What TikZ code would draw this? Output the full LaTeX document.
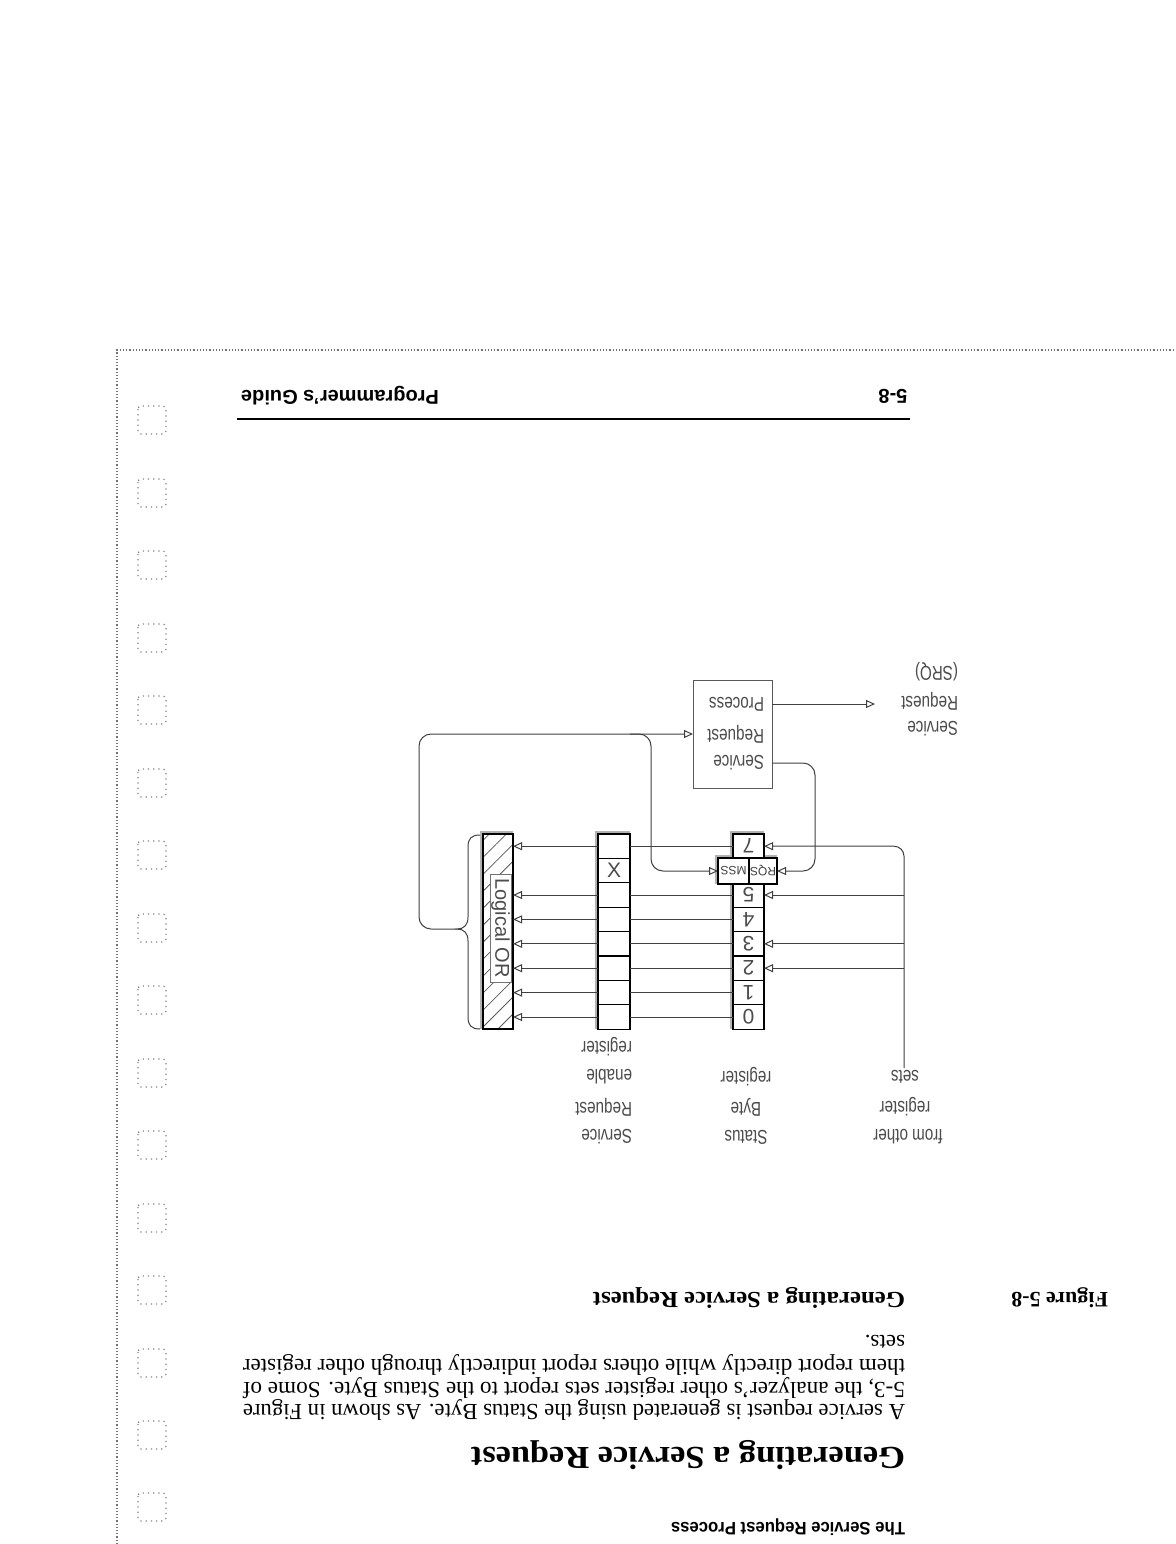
\documentclass[tikz,border=0pt]{standalone}
\usepackage{fontspec}
\setmainfont{Liberation Serif}
\setsansfont{Liberation Sans}
\usetikzlibrary{arrows.meta,patterns.meta}
\newcommand\fitw[2]{\resizebox{#1}{\height}{#2}}
\newcommand\nar[1]{\scalebox{0.76}[1]{#1}}
\newcommand\ud[1]{\rotatebox{180}{#1}}
\begin{document}
\begin{tikzpicture}[x=0.5pt,y=-0.5pt,
  every node/.style={inner sep=0pt, outer sep=0pt},
  up/.style={rotate=180},
  conn/.style={draw=black!75, line width=0.5pt},
  arr/.style={conn,-{Triangle[open,length=4.5pt,width=4pt]}},
  lbl/.style={up, font=\fontsize{10}{12}\selectfont\sffamily, text=black!70},
  cell/.style={draw=black, line width=0.6pt, fill=white},
  shade/.style={fill=black!30},
  margbox/.style={draw=black!50, dotted, line width=0.6pt, rounded corners=1.5pt},
  digit/.style={font=\fontsize{10.5}{12}\selectfont\sffamily, text=black!70}
]
\fill[white] (0,0) rectangle (1176,1544);
\useasboundingbox (0,0) rectangle (1176,1544);

% page edge and punch holes
\draw[black!55, densely dotted, line width=0.6pt] (117,1544) -- (117,350) -- (1176,350);
\foreach \yy in {420,493,565,638,710,783,855,928,1000,1073,1145,1218,1290,1363,1435,1507}
  \draw[margbox] (138,\yy-14) rectangle (166,\yy+14);

% running header
\draw[line width=1.1pt] (237,419) -- (910,419);
\node[up, font=\fontsize{10}{12}\selectfont\bfseries\sffamily] (hdr) at (340,396) {Programmer's Guide};
\node[up, font=\fontsize{10}{12}\selectfont\bfseries\sffamily] (pg) at (893,396) {5-8};

% ---------- diagram ----------
% shadows
\fill[shade] (480,831) rectangle (513,1029);
\fill[shade] (595,831) rectangle (630,1029);
\fill[shade] (730,831) rectangle (764,1029);
\fill[shade] (715,855) rectangle (777,884);

% logical OR bar
\node[draw=black, line width=0.6pt, fill=white, minimum width=15pt, minimum height=97.5pt] (orbg) at (498,931.5) {};
\node[draw=black, line width=0.6pt, pattern={Lines[angle=45,distance=6pt,line width=0.4pt]}, pattern color=black!65,
      minimum width=15pt, minimum height=97.5pt] (orb) at (498,931.5) {};
\node[draw=black!55, fill=white, line width=0.4pt, minimum width=10.5pt, minimum height=54pt,
      font=\fontsize{10}{12}\selectfont\sffamily, text=black!70] (orl) at (500.5,928) {\rotatebox{-90}{Logical OR}};

% registers
\foreach \i/\yy in {7/846.2, 6/870.6, 5/895, 4/919.4, 3/943.8, 2/968.2, 1/992.6, 0/1017} {
  \node[cell, minimum width=16pt, minimum height=12.2pt, digit] (e\i) at (614,\yy) {\ifnum\i=6 X\fi};
  \node[cell, minimum width=15.5pt, minimum height=12.2pt, digit] (s\i) at (748.5,\yy) {\ifnum\i=6 \else\ud{\i}\fi};
}
\node[cell, minimum width=15.5pt, minimum height=13pt, font=\fontsize{6}{7}\selectfont\sffamily, text=black!75] (mss) at (733.5,871) {\ud{MSS}};
\node[cell, minimum width=14pt, minimum height=13pt, font=\fontsize{6}{7}\selectfont\sffamily, text=black!75] (rqs) at (763,871) {\ud{RQS}};

% status byte -> enable register -> OR
\foreach \i in {7,5,4,3,2,1,0} {
  \draw[conn] (s\i.west) -- (e\i.east);
  \draw[arr] (e\i.west) -- (e\i.west -| orb.east);
}

% from other register sets
\coordinate (ob) at (904,1068);
\draw[arr, rounded corners=5pt] (ob) |- (s7.east);
\foreach \i in {5,3,2}
  \draw[arr] (s\i.east -| ob) -- (s\i.east);

% brace
\coordinate (brtip) at (457,929);
\draw[conn] (480,835) .. controls (471,835) and (468,839) .. (468,847) -- (468,917)
  .. controls (468,925) and (464,929) .. (brtip)
  .. controls (464,929) and (468,933) .. (468,941) -- (468,1017)
  .. controls (468,1025) and (471,1029) .. (480,1029);

% service request process box
\node[draw=black!65, line width=0.5pt, minimum width=39.5pt, minimum height=54pt] (srp) at (732.5,734) {};
\node[lbl, anchor=west] (srp1) at (764,704) {\nar{Process}};
\node[lbl, anchor=west] (srp2) at (764,734) {\nar{Request}};
\node[lbl, anchor=west] (srp3) at (764,763) {\nar{Service}};

% loop from OR to process, and to MSS
\coordinate (lt) at (419,734);
\draw[arr, rounded corners=6pt] (brtip) -| (lt) -- (srp.west);
\coordinate (bj) at (630,734);
\coordinate (bk) at (651,800);
\draw[arr, rounded corners=6pt] (bj) -| (bk) |- (mss.west);

% RQS from process
\coordinate (y763) at (0,763);
\coordinate (rk) at (815,820);
\draw[arr, rounded corners=6pt] (srp.east |- y763) -| (rk) |- (rqs.east);

% SRQ output
\coordinate (y704) at (0,704);
\coordinate (srq) at (875,704);
\draw[arr] (srp.east |- y704) -- (srq);
\node[lbl, anchor=west] (q1) at (958,672) {\nar{(SRQ)}};
\node[lbl, anchor=west] (q2) at (958,701) {\nar{Request}};
\node[lbl, anchor=west] (q3) at (958,729) {\nar{Service}};

% column labels
\node[lbl, anchor=west] (la1) at (632,1047) {\nar{register}};
\node[lbl, anchor=west] (la2) at (632,1077) {\nar{enable}};
\node[lbl, anchor=west] (la3) at (632,1107) {\nar{Request}};
\node[lbl, anchor=west] (la4) at (632,1137) {\nar{Service}};
\node[lbl] (lb1) at (746,1077) {\nar{register}};
\node[lbl] (lb2) at (746,1107) {\nar{Byte}};
\node[lbl] (lb3) at (746,1137) {\nar{Status}};
\node[lbl] (lc1) at (905,1077) {\nar{sets}};
\node[lbl] (lc2) at (905,1107) {\nar{register}};
\node[lbl] (lc3) at (908,1137) {\nar{from other}};

% ---------- text ----------
\node[up, anchor=west, font=\bfseries\fontsize{11}{13}\selectfont] (figno) at (1108,1298) {Figure 5-8};
\node[up, anchor=west, font=\bfseries\fontsize{11.5}{13}\selectfont] (figcap) at (905,1298) {\fitw{156pt}{Generating a Service Request}};

\node[up, anchor=west, font=\fontsize{11.5}{13}\selectfont] (b4) at (905,1342) {sets.};
\node[up, anchor=west, font=\fontsize{11.5}{13}\selectfont] (b3) at (905,1365) {\fitw{331pt}{them report directly while others report indirectly through other register}};
\node[up, anchor=west, font=\fontsize{11.5}{13}\selectfont] (b2) at (905,1388) {\fitw{331pt}{5-3, the analyzer's other register sets report to the Status Byte. Some of}};
\node[up, anchor=west, font=\fontsize{11.5}{13}\selectfont] (b1) at (905,1410) {\fitw{331pt}{A service request is generated using the Status Byte. As shown in Figure}};

\node[up, anchor=west, font=\bfseries\fontsize{16}{19}\selectfont] (head) at (905,1455) {\fitw{217pt}{Generating a Service Request}};
\node[up, anchor=west, font=\bfseries\sffamily\fontsize{9}{11}\selectfont] (sect) at (905,1527) {\fitw{117pt}{The Service Request Process}};
\end{tikzpicture}
\end{document}
